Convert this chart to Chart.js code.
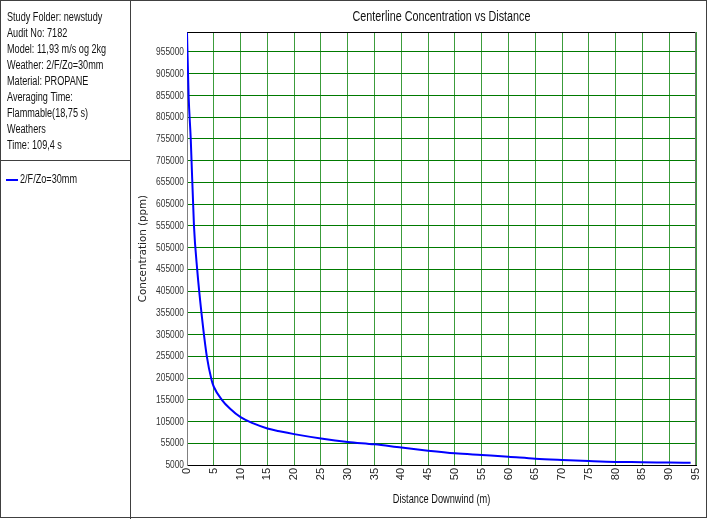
<!DOCTYPE html>
<html>
<head>
<meta charset="utf-8">
<script src="https://cdn.jsdelivr.net/npm/chart.js@4"></script>
<style>
html, body { margin: 0; padding: 0; background: #fff; }
#wrap { width: 708px; height: 519px; }
</style>
</head>
<body>
<div id="wrap"><canvas id="chart" width="708" height="519"></canvas></div>
<script>
// Values
const distance = [0, 0.3, 0.7, 1.3, 1.9, 2.7, 3.7, 4.6, 5, 6.5, 8, 10, 12.5, 15, 17.5, 20,
    25, 30, 35, 40, 45, 50, 55, 60, 65, 70, 75, 80, 85, 90, 94];
const concentration = [1000000, 855000, 755000, 555000, 455000, 355000, 255000, 200000, 185000,
    155000, 135000, 115000, 100000, 89000, 82000, 76000, 66000, 58000, 52500, 45000, 38000,
    32000, 28000, 24000, 19500, 16500, 14000, 12000, 11500, 10500, 10000];
const yTicks = [5000, 55000, 105000, 155000, 205000, 255000, 305000, 355000, 405000, 455000,
    505000, 555000, 605000, 655000, 705000, 755000, 805000, 855000, 905000, 955000];
const seriesName = '2/F/Zo=30mm';
const chartTitle = 'Centerline Concentration vs Distance';
const xTitle = 'Distance Downwind (m)';
const yTitle = 'Concentration (ppm)';
const infoLines = [
    'Study Folder: newstudy',
    'Audit No: 7182',
    'Model: 11,93 m/s og 2kg',
    'Weather: 2/F/Zo=30mm',
    'Material: PROPANE',
    'Averaging Time:',
    'Flammable(18,75 s)',
    'Weathers',
    'Time: 109,4 s'
];

const SANS = '"Liberation Sans", Arial, sans-serif';

// no narrow font installed, so squeeze the text horizontally
function narrowText(ctx, text, x, y, size, sx, align) {
    ctx.save();
    ctx.translate(x, y);
    ctx.scale(sx, 1);
    ctx.font = size + 'px ' + SANS;
    ctx.textAlign = align;
    ctx.textBaseline = 'middle';
    ctx.fillText(text, 0, 0);
    ctx.restore();
}

const framePlugin = {
    id: 'frame',
    beforeDatasetsDraw(chart) {
        const { ctx, chartArea: a } = chart;
        ctx.save();
        ctx.lineWidth = 1;
        ctx.strokeStyle = '#000';
        ctx.beginPath();
        ctx.moveTo(a.left, a.top + 0.5);
        ctx.lineTo(a.right, a.top + 0.5);
        ctx.stroke();
        ctx.strokeStyle = '#707070';
        ctx.beginPath();
        ctx.moveTo(Math.round(a.right) - 0.5, a.top);
        ctx.lineTo(Math.round(a.right) - 0.5, a.bottom);
        ctx.stroke();
        ctx.restore();
    },
    afterDraw(chart) {
        const { ctx, width, height, chartArea: a } = chart;
        ctx.save();
        ctx.strokeStyle = '#404040';
        ctx.lineWidth = 1;
        ctx.strokeRect(0.5, 0.5, width - 2, height - 2);
        ctx.beginPath();
        ctx.moveTo(130.5, 0);
        ctx.lineTo(130.5, height);
        ctx.moveTo(0, 160.5);
        ctx.lineTo(130, 160.5);
        ctx.stroke();

        ctx.fillStyle = '#111';
        infoLines.forEach((t, i) => narrowText(ctx, t, 7, 18 + i * 16, 12, 0.76, 'left'));

        // legend
        ctx.strokeStyle = '#0000ff';
        ctx.lineWidth = 2;
        ctx.beginPath();
        ctx.moveTo(6, 180);
        ctx.lineTo(18, 180);
        ctx.stroke();
        narrowText(ctx, seriesName, 20, 180, 12, 0.76, 'left');

        narrowText(ctx, chartTitle, (a.left + a.right) / 2, 17, 14, 0.77, 'center');
        narrowText(ctx, xTitle, (a.left + a.right) / 2, 500, 12, 0.77, 'center');

        // y tick labels from the scale
        const ys = chart.scales.y;
        ctx.fillStyle = '#333';
        ys.ticks.forEach(t => {
            narrowText(ctx, String(t.value), a.left - 3, ys.getPixelForValue(t.value), 11, 0.76, 'right');
        });

        // y title
        ctx.save();
        ctx.translate(143, (a.top + a.bottom) / 2);
        ctx.rotate(-Math.PI / 2);
        ctx.font = '10.3px "DejaVu Sans", sans-serif';
        ctx.fillStyle = '#222';
        ctx.textAlign = 'center';
        ctx.textBaseline = 'middle';
        ctx.fillText(yTitle, 0, 0);
        ctx.restore();
        ctx.restore();
    }
};

new Chart(document.getElementById('chart'), {
    type: 'scatter',
    data: {
        datasets: [{
            label: seriesName,
            data: distance.map((d, i) => ({ x: d, y: concentration[i] })),
            showLine: true,
            borderColor: '#0000ff',
            borderWidth: 2,
            pointRadius: 0,
            cubicInterpolationMode: 'monotone'
        }]
    },
    options: {
        responsive: false,
        animation: false,
        layout: { padding: { left: 130, right: 12, top: 32, bottom: 0 } },
        plugins: { legend: { display: false }, tooltip: { enabled: false } },
        scales: {
            x: {
                type: 'linear',
                min: 0,
                max: 95,
                afterFit: s => {
                    s.height = 54;
                    s.paddingLeft = 0;
                    s.paddingRight = 0;
                },
                ticks: {
                    stepSize: 5,
                    minRotation: 90,
                    maxRotation: 90,
                    padding: 3,
                    color: '#222',
                    font: { family: SANS, size: 11 }
                },
                grid: { color: '#3c9c3c', lineWidth: 1, drawTicks: false },
                border: { color: '#000' }
            },
            y: {
                min: 5000,
                max: 1001000,
                afterFit: s => {
                    s.width = 57;
                    s.paddingTop = 0;
                    s.paddingBottom = 0;
                },
                afterBuildTicks: s => { s.ticks = yTicks.map(v => ({ value: v })); },
                ticks: { display: false },
                grid: { color: '#007a00', lineWidth: 1, drawTicks: false },
                border: { color: '#808080' }
            }
        }
    },
    plugins: [framePlugin]
});
</script>
</body>
</html>
